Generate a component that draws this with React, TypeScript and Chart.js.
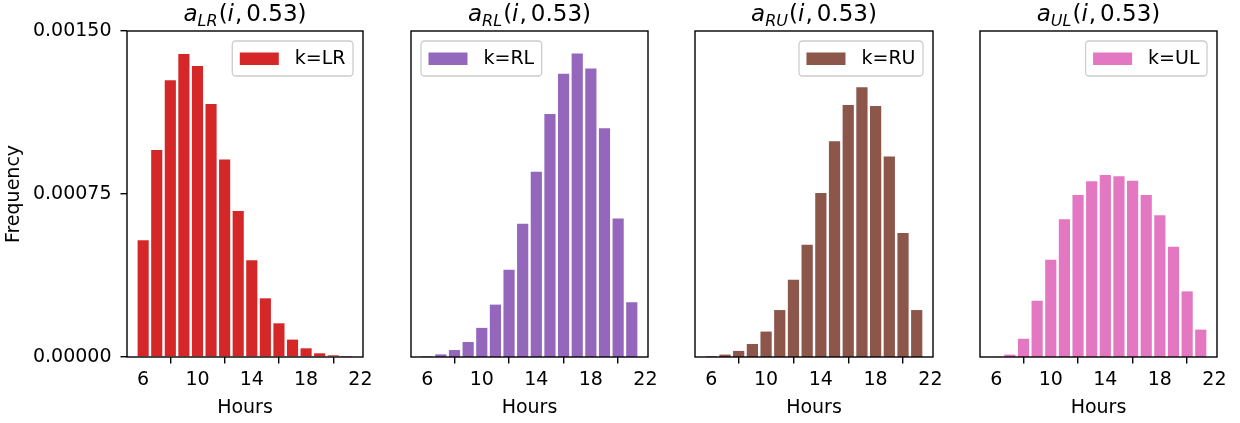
import React, { useEffect, useRef } from "react";
import { Chart, registerables } from "chart.js";

Chart.register(...registerables);

const hours = [6, 7, 8, 9, 10, 11, 12, 13, 14, 15, 16, 17, 18, 19, 20, 21];

const lrValues = [0.000537, 0.000953, 0.001273, 0.001394, 0.001339, 0.001164, 0.000909, 0.000672, 0.000445, 0.00027, 0.000155, 0.00008, 0.00004, 0.000017, 0.0000077, 0.000001];
const rlValues = [0.000003, 0.000012, 0.000032, 0.000069, 0.000134, 0.000241, 0.000401, 0.000613, 0.000852, 0.001118, 0.001303, 0.001397, 0.001328, 0.001053, 0.000637, 0.000252];
const ruValues = [0.000003, 0.000011, 0.000028, 0.00006, 0.000117, 0.000216, 0.000355, 0.000517, 0.000755, 0.000993, 0.001159, 0.001241, 0.001155, 0.000923, 0.000571, 0.000216];
const ulValues = [0.000001, 0.000011, 0.000084, 0.000259, 0.000448, 0.000634, 0.000745, 0.000809, 0.000837, 0.000832, 0.000811, 0.000745, 0.000652, 0.000507, 0.000302, 0.000126];

const xTicks = [6, 10, 14, 18, 22];
const yTicks = [0, 0.00075, 0.0015];

const panelKeys = ["LR", "RL", "RU", "UL"];
const panelLabels = ["k=LR", "k=RL", "k=RU", "k=UL"];
const panelColors = ["#d62728", "#9467bd", "#8c564b", "#e377c2"];
const panelValues = [lrValues, rlValues, ruValues, ulValues];
const legendSides = ["right", "left", "right", "right"];
const titleParam = "0.53";

const FONT = "'DejaVu Sans', sans-serif";
const FS = 19;

const PANEL_LEFT = [127, 411, 695, 980];
const PANEL_W = [236, 237, 238, 237];
const AREA_TOP = 31;
const AREA_BOTTOM = 357;
const Y_AXIS_W = 127;
const PAD_RIGHT = 24;
const H = 423;

function makePlugin(idx: number) {
  return {
    id: "mplDecor" + idx,
    afterDatasetsDraw(chart: any) {
      const ctx = chart.ctx as CanvasRenderingContext2D;
      const a = chart.chartArea;
      ctx.save();
      // frame
      ctx.strokeStyle = "#000";
      ctx.lineWidth = 1.4;
      ctx.strokeRect(a.left, a.top, a.right - a.left, a.bottom - a.top);

      // legend
      ctx.font = `${FS}px ${FONT}`;
      const label = panelLabels[idx];
      const tw = ctx.measureText(label).width;
      const padX = 7.5, handleW = 39, gap = 16;
      const boxW = padX + handleW + gap + tw + padX;
      const boxH = 35;
      const margin = 10;
      const bx = legendSides[idx] === "right" ? a.right - margin - boxW : a.left + margin;
      const by = a.top + margin;
      const r = 3.5;
      ctx.beginPath();
      ctx.moveTo(bx + r, by);
      ctx.lineTo(bx + boxW - r, by);
      ctx.arcTo(bx + boxW, by, bx + boxW, by + r, r);
      ctx.lineTo(bx + boxW, by + boxH - r);
      ctx.arcTo(bx + boxW, by + boxH, bx + boxW - r, by + boxH, r);
      ctx.lineTo(bx + r, by + boxH);
      ctx.arcTo(bx, by + boxH, bx, by + boxH - r, r);
      ctx.lineTo(bx, by + r);
      ctx.arcTo(bx, by, bx + r, by, r);
      ctx.closePath();
      ctx.fillStyle = "rgba(255,255,255,0.8)";
      ctx.fill();
      ctx.strokeStyle = "#cccccc";
      ctx.lineWidth = 1.3;
      ctx.stroke();
      const cy = by + boxH / 2;
      ctx.fillStyle = panelColors[idx];
      ctx.fillRect(bx + padX, cy - 6, handleW, 12.5);
      ctx.fillStyle = "#000";
      ctx.textBaseline = "middle";
      ctx.textAlign = "left";
      ctx.fillText(label, bx + padX + handleW + gap, cy + 1);

      // title: a_{KEY}(i, 0.53) in mathtext style
      const tf = 23;
      const sf = 16;
      const parts: { t: string; f: string; dy: number; after?: number }[] = [
        { t: "a", f: `italic ${tf}px ${FONT}`, dy: 0 },
        { t: panelKeys[idx], f: `italic ${sf}px ${FONT}`, dy: 4.5, after: 1 },
        { t: "(", f: `${tf}px ${FONT}`, dy: 0 },
        { t: "i", f: `italic ${tf}px ${FONT}`, dy: 0, after: 1 },
        { t: ",", f: `${tf}px ${FONT}`, dy: 0, after: 4 },
        { t: titleParam + ")", f: `${tf}px ${FONT}`, dy: 0 },
      ];
      let total = 0;
      for (const p of parts) {
        ctx.font = p.f;
        total += ctx.measureText(p.t).width + (p.after || 0);
      }
      let x = (a.left + a.right) / 2 - total / 2;
      const baseY = 21;
      ctx.textBaseline = "alphabetic";
      ctx.fillStyle = "#000";
      for (const p of parts) {
        ctx.font = p.f;
        ctx.fillText(p.t, x, baseY + p.dy);
        x += ctx.measureText(p.t).width + (p.after || 0);
      }
      ctx.restore();
    },
  };
}

function Panel({ idx }: { idx: number }) {
  const ref = useRef<HTMLCanvasElement | null>(null);
  useEffect(() => {
    if (!ref.current) return;
    const isFirst = idx === 0;
    const data = hours.map((h, i) => ({ x: h, y: panelValues[idx][i] }));
    const chart = new Chart(ref.current, {
      type: "bar",
      data: {
        datasets: [
          {
            label: panelLabels[idx],
            data,
            backgroundColor: panelColors[idx],
            borderWidth: 0,
            barPercentage: 0.82,
            categoryPercentage: 1,
          },
        ],
      },
      options: {
        responsive: false,
        animation: false,
        events: [],
        layout: { padding: { top: AREA_TOP, right: PAD_RIGHT, left: 0, bottom: 0 } },
        plugins: { legend: { display: false }, tooltip: { enabled: false }, title: { display: false } },
        scales: {
          x: {
            type: "linear",
            min: 4.81,
            max: 22.19,
            offset: false,
            afterBuildTicks: (s: any) => {
              s.ticks = xTicks.map((v) => ({ value: v }));
            },
            afterFit: (s: any) => {
              s.height = H - AREA_BOTTOM;
            },
            ticks: {
              color: "#000",
              font: { family: FONT, size: FS },
              padding: 5,
              maxRotation: 0,
              autoSkip: false,
              callback: (v: any) => String(v),
            },
            grid: {
              display: true,
              drawOnChartArea: false,
              drawTicks: true,
              tickLength: 6.5,
              color: "#000",
              lineWidth: 1.4,
            },
            border: { display: false },
            title: {
              display: true,
              text: "Hours",
              color: "#000",
              font: { family: FONT, size: FS },
              padding: { top: 0, bottom: 4 },
            },
          },
          y: {
            type: "linear",
            min: 0,
            max: 0.0015,
            afterBuildTicks: (s: any) => {
              s.ticks = yTicks.map((v) => ({ value: v }));
            },
            afterFit: (s: any) => {
              s.width = Y_AXIS_W;
            },
            ticks: {
              display: isFirst,
              color: "#000",
              font: { family: FONT, size: FS },
              padding: 9,
              callback: (v: any) => Number(v).toFixed(5),
            },
            grid: {
              display: isFirst,
              drawOnChartArea: false,
              drawTicks: true,
              tickLength: 6.5,
              color: "#000",
              lineWidth: 1.4,
            },
            border: { display: false },
            title: {
              display: isFirst,
              text: "Frequency",
              color: "#000",
              font: { family: FONT, size: FS },
              padding: { top: 3, bottom: 0 },
            },
          },
        },
      },
      plugins: [makePlugin(idx)],
    } as any);
    return () => chart.destroy();
  }, [idx]);
  const w = Y_AXIS_W + PANEL_W[idx] + PAD_RIGHT;
  return (
    <canvas
      ref={ref}
      width={w}
      height={H}
      style={{ position: "absolute", left: PANEL_LEFT[idx] - Y_AXIS_W, top: 0, width: w, height: H }}
    />
  );
}

export default function App() {
  useEffect(() => {
    document.body.style.margin = "0";
    document.body.style.background = "#fff";
  }, []);
  return (
    <div style={{ position: "relative", width: 1240, height: H, background: "#fff", overflow: "hidden" }}>
      {[0, 1, 2, 3].map((i) => (
        <Panel key={i} idx={i} />
      ))}
    </div>
  );
}
